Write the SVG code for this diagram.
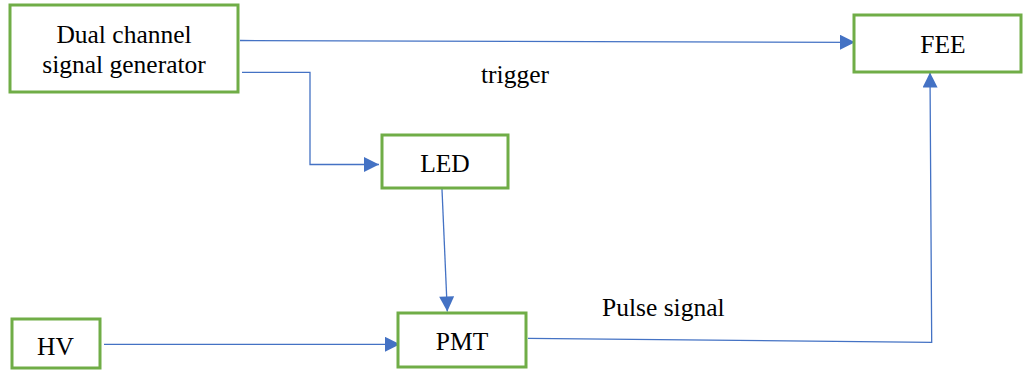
<svg xmlns="http://www.w3.org/2000/svg" width="1024" height="370" viewBox="0 0 1024 370">
<style>
.box{fill:#fff;stroke:#70AD47;stroke-width:3}
.t{font-family:'Liberation Serif','DejaVu Serif',serif;font-size:25.5px;fill:#000}
.c{fill:none;stroke:#4472C4;stroke-width:1.3}
</style>
<defs>
<marker id="ah" viewBox="0 0 10 10" refX="10" refY="5" markerUnits="userSpaceOnUse" markerWidth="16" markerHeight="15" orient="auto">
<path d="M0,0 L10,5 L0,10 Z" fill="#4472C4"/>
</marker>
</defs>
<rect width="1024" height="370" fill="#fff"/>
<g id="connectors">
<path class="c" d="M240,40.5 L855,42.3" marker-end="url(#ah)"/>
<path class="c" d="M242,72.3 L310,72.3 L310,164.5 L379,164.5" marker-end="url(#ah)"/>
<path class="c" d="M441.7,182.5 L447.3,311.5" marker-end="url(#ah)"/>
<path class="c" d="M104,344.3 L400,344.3" marker-end="url(#ah)"/>
<path class="c" d="M528,338.3 L931.7,342.3 L930,72.5" marker-end="url(#ah)"/>
</g>
<g id="generator">
<rect class="box" x="10" y="5" width="228" height="87"/>
<text class="t" x="124" y="43.3" text-anchor="middle">Dual channel</text>
<text class="t" x="124" y="73.3" text-anchor="middle">signal generator</text>
</g>
<g id="fee">
<rect class="box" x="854" y="15" width="167" height="57"/>
<text class="t" x="943" y="53.3" text-anchor="middle">FEE</text>
</g>
<g id="led">
<rect class="box" x="382" y="135" width="126" height="53"/>
<text class="t" x="445" y="171.7" text-anchor="middle">LED</text>
</g>
<g id="pmt">
<rect class="box" x="398" y="313" width="128" height="54"/>
<text class="t" x="462" y="350" text-anchor="middle">PMT</text>
</g>
<g id="hv">
<rect class="box" x="12" y="319" width="88" height="49"/>
<text class="t" x="55.5" y="355" text-anchor="middle">HV</text>
</g>
<g id="labels">
<text class="t" x="481" y="83.3">trigger</text>
<text class="t" x="602" y="316">Pulse signal</text>
</g>
</svg>
